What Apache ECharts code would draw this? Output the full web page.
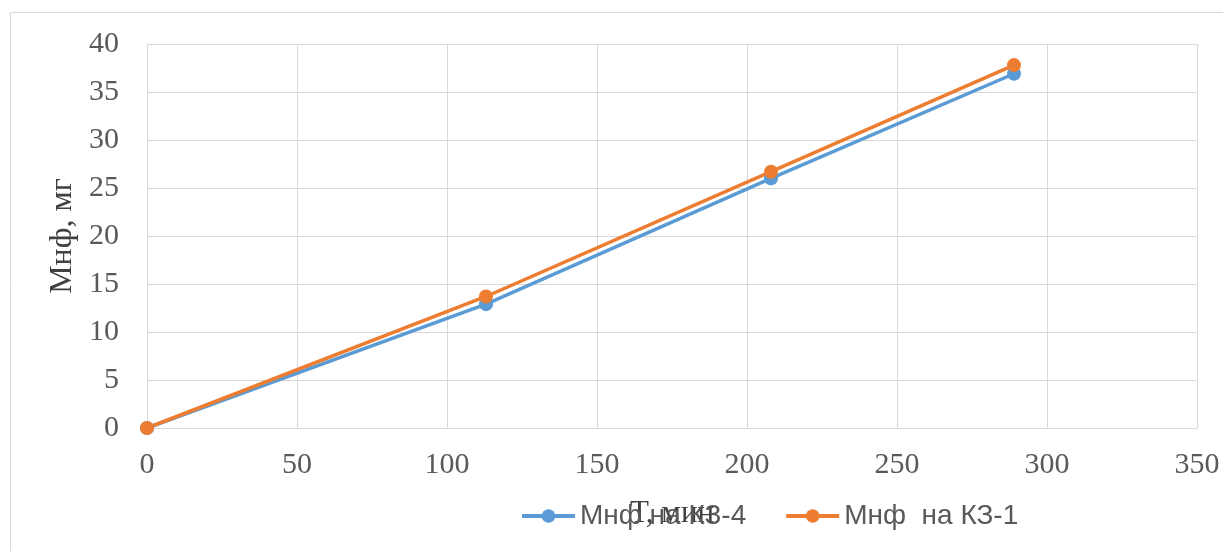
<!DOCTYPE html>
<html><head><meta charset="utf-8">
<script src="https://cdn.jsdelivr.net/npm/echarts@6/dist/echarts.min.js"></script>
<style>html,body{margin:0;padding:0;background:#fff}#c{width:1223px;height:551px}</style>
</head><body><div id="c"></div>
<script>
const xK34 = [0, 113, 208, 289];
const yK34 = [0, 12.9, 26.0, 36.9];
const xK31 = [0, 113, 208, 289];
const yK31 = [0, 13.7, 26.7, 37.8];
const seriesNames = ['Мнф на КЗ-4', 'Мнф  на КЗ-1'];
const xAxisName = 'Т, мин';
const yAxisName = 'Мнф, мг';

const chart = echarts.init(document.getElementById('c'));
const serif = '"Liberation Serif", "DejaVu Serif", serif';
const sans = '"Liberation Sans", "Open Sans", sans-serif';
chart.setOption({
  animation: false,
  graphic: [{type:'rect', shape:{x:10.5,y:12.5,width:1300,height:600}, style:{fill:'none', stroke:'#d9d9d9', lineWidth:1}}],
  grid: {left:147, right:26, top:44, bottom:123, containLabel:false},
  legend: {
    top: 497, left: 515, itemWidth: 53, itemHeight: 17, itemGap: 38,
    textStyle: {fontFamily: sans, fontSize: 28, color:'#595959'},
    lineStyle: {width: 4},
    data: seriesNames
  },
  xAxis: {
    type:'value', min:0, max:350, interval:50,
    name: xAxisName, nameLocation:'middle', nameGap: 70,
    nameTextStyle:{fontFamily: serif, fontSize: 31, color:'#404040'},
    axisLine:{show:true, lineStyle:{color:'#d9d9d9'}}, axisTick:{show:false},
    axisLabel:{fontFamily: serif, fontSize: 30, color:'#595959', margin: 22},
    splitLine:{show:true, lineStyle:{color:'#d9d9d9', width:1}}
  },
  yAxis: {
    type:'value', min:0, max:40, interval:5,
    name: yAxisName, nameLocation:'middle', nameGap: 67,
    nameTextStyle:{fontFamily: serif, fontSize: 32, color:'#404040'},
    axisLine:{show:true, lineStyle:{color:'#d9d9d9'}}, axisTick:{show:false},
    axisLabel:{fontFamily: serif, fontSize: 30, color:'#595959', margin: 28},
    splitLine:{show:true, lineStyle:{color:'#d9d9d9', width:1}}
  },
  series: [
    {name: seriesNames[0], type:'line', data: xK34.map((x,i)=>[x,yK34[i]]),
     symbol:'circle', symbolSize:14, lineStyle:{width:3.5, color:'#5b9bd5'}, itemStyle:{color:'#5b9bd5'}},
    {name: seriesNames[1], type:'line', data: xK31.map((x,i)=>[x,yK31[i]]),
     symbol:'circle', symbolSize:14, lineStyle:{width:3.5, color:'#ed7d31'}, itemStyle:{color:'#ed7d31'}}
  ]
});
</script></body></html>
